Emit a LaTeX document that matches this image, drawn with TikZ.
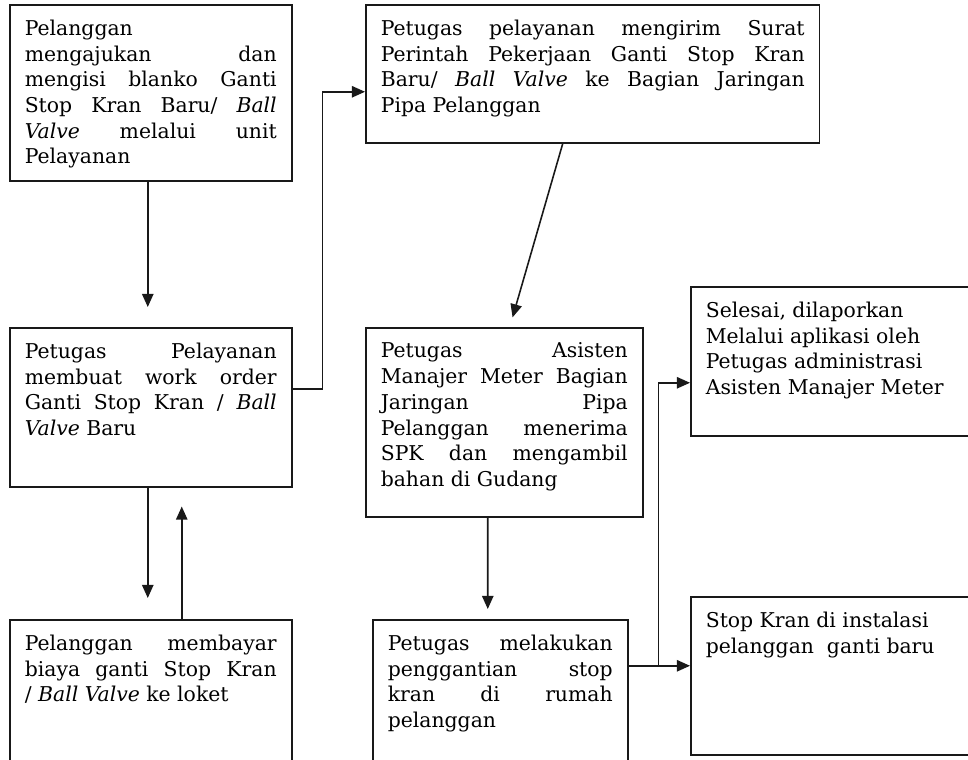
\documentclass[tikz,border=0pt]{standalone}
\usepackage{fontspec}
\setmainfont{DejaVu Serif}
\usetikzlibrary{arrows.meta}

% text block of a box: width, height, text
\newcommand{\boxtext}[3]{\parbox[t][#2][t]{#1}{#3}}

\begin{document}
\begin{tikzpicture}[
    x=0.02cm, y=-0.02cm,
    box_style/.style={draw=black!90, line width=0.9pt, anchor=north west, inner sep=0.3cm,
        font=\fontsize{11.6pt}{14.65pt}\selectfont},
    arrow_style/.style={draw=black!90, line width=0.9pt, -{Triangle[length=7.5pt,width=6.5pt]}}
]

    % --- Frame of the page ---
    \useasboundingbox (0,0) rectangle (968,760);
    \clip (0,0) rectangle (968,760);

    % --- Left column ---
    \node[box_style] (ajukan) at (9,4) {\boxtext{5.04cm}{2.92cm}{Pelanggan\\
        mengajukan dan\linebreak mengisi blanko Ganti\linebreak
        Stop Kran Baru/ \textit{Ball}\linebreak \textit{Valve} melalui unit\linebreak Pelayanan}};
    \node[box_style] (workorder) at (9,327) {\boxtext{5.04cm}{2.58cm}{Petugas Pelayanan\linebreak
        membuat work order\linebreak Ganti Stop Kran / \textit{Ball}\linebreak \textit{Valve} Baru}};
    \node[box_style] (bayar) at (9,619) {\boxtext{5.04cm}{3.4cm}{Pelanggan membayar\linebreak
        biaya ganti Stop Kran\linebreak / \textit{Ball Valve} ke loket}};

    % --- Middle column ---
    \node[box_style] (kirimspk) at (365,4) {\boxtext{8.48cm}{2.16cm}{Petugas pelayanan mengirim Surat\linebreak
        Perintah Pekerjaan Ganti Stop Kran\linebreak
        Baru/ \textit{Ball Valve} ke Bagian Jaringan\linebreak Pipa Pelanggan}};
    \node[box_style] (terimaspk) at (365,327) {\boxtext{4.94cm}{3.18cm}{Petugas Asisten\linebreak
        Manajer Meter Bagian\linebreak Jaringan Pipa\linebreak Pelanggan menerima\linebreak
        SPK dan mengambil\linebreak bahan di Gudang}};
    \node[box_style] (ganti) at (372,619) {\boxtext{4.5cm}{3.4cm}{Petugas melakukan\linebreak
        penggantian stop\linebreak kran di rumah\linebreak pelanggan}};

    % --- Right column ---
    \node[box_style] (selesai) at (690,286) {\boxtext{5.4cm}{2.38cm}{\raggedright Selesai, dilaporkan\\
        Melalui aplikasi oleh\\ Petugas administrasi\\ Asisten Manajer Meter}};
    \node[box_style] (baru) at (690,596) {\boxtext{5.4cm}{2.56cm}{\raggedright Stop Kran di instalasi\\
        pelanggan\ \ ganti baru}};

    % --- Connectors ---
    \draw[arrow_style, shorten >=0.4cm] ([xshift=-0.06cm]ajukan.south) -- ([xshift=-0.06cm]workorder.north);
    \draw[arrow_style] ([yshift=0.37cm]workorder.east) -- ++(30,0) |- ([yshift=-0.36cm]kirimspk.west);
    \draw[arrow_style, shorten >=0.2cm] ([xshift=-0.6cm]kirimspk.south) -- ([xshift=0.11cm]terimaspk.north);
    \draw[arrow_style, shorten >=0.42cm] ([xshift=-0.06cm]workorder.south) -- ([xshift=-0.06cm]bayar.north);
    \draw[arrow_style, shorten >=0.38cm] ([xshift=0.62cm]bayar.north) -- ([xshift=0.62cm]workorder.south);
    \draw[arrow_style, shorten >=0.2cm] ([xshift=-0.33cm]terimaspk.south) -- ([xshift=-0.25cm]ganti.north);

    % split after the replacement
    \coordinate (gout) at ([yshift=1.08cm]ganti.east);
    \coordinate (split) at ([xshift=0.6cm]gout);
    \draw[arrow_style] (gout) -- (baru.west |- gout);
    \draw[arrow_style] (split) |- ([yshift=-0.43cm]selesai.west);

\end{tikzpicture}
\end{document}
